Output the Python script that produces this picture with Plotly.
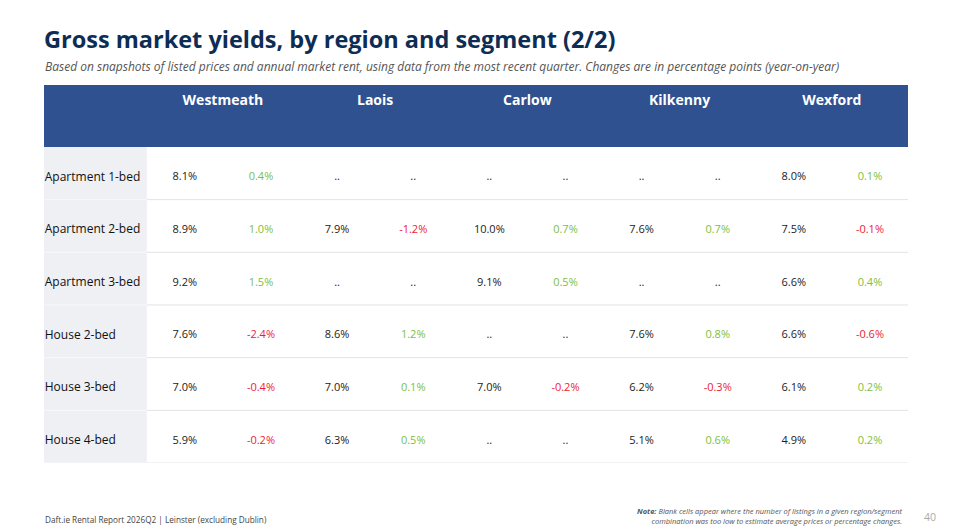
import plotly.graph_objects as go

regions = ["Westmeath", "Laois", "Carlow", "Kilkenny", "Wexford"]
segments = ["Apartment 1-bed", "Apartment 2-bed", "Apartment 3-bed",
            "House 2-bed", "House 3-bed", "House 4-bed"]

# gross yield (%) per region, in segment order; None = too few listings
westmeath_yield = [8.1, 8.9, 9.2, 7.6, 7.0, 5.9]
laois_yield = [None, 7.9, None, 8.6, 7.0, 6.3]
carlow_yield = [None, 10.0, 9.1, None, 7.0, None]
kilkenny_yield = [None, 7.6, None, 7.6, 6.2, 5.1]
wexford_yield = [8.0, 7.5, 6.6, 6.6, 6.1, 4.9]

# year-on-year change (percentage points)
westmeath_chg = [0.4, 1.0, 1.5, -2.4, -0.4, -0.2]
laois_chg = [None, -1.2, None, 1.2, 0.1, 0.5]
carlow_chg = [None, 0.7, 0.5, None, -0.2, None]
kilkenny_chg = [None, 0.7, None, 0.8, -0.3, 0.6]
wexford_chg = [0.1, -0.1, 0.4, -0.6, 0.2, 0.2]

yields = [westmeath_yield, laois_yield, carlow_yield, kilkenny_yield, wexford_yield]
changes = [westmeath_chg, laois_chg, carlow_chg, kilkenny_chg, wexford_chg]

NAVY = "#0e2d55"
BAND = "#2f5190"
GREEN = "#7cc142"
RED = "#ec1c35"
TXT = "#222222"

n_rows = len(segments)
label_w = 1.35          # label column width, in value-column units
hdr = 62 / 52.7         # header band height, in row units


def fmt(v):
    return ".." if v is None else f"{v:.1f}%"


fig = go.Figure()

# cell text: yields in even columns, changes in odd columns
yx, yy, yt = [], [], []
cx, cy, ct, cc = [], [], [], []
for i, (ys, cs) in enumerate(zip(yields, changes)):
    for r in range(n_rows):
        row_y = n_rows - r - 0.58
        yx.append(2 * i + 0.5)
        yy.append(row_y)
        yt.append(fmt(ys[r]))
        cx.append(2 * i + 1.5)
        cy.append(row_y)
        ct.append(fmt(cs[r]))
        v = cs[r]
        cc.append(TXT if v is None else (RED if v < 0 else GREEN))

fig.add_trace(go.Scatter(
    x=yx, y=yy, text=yt, mode="text", hoverinfo="skip",
    textfont=dict(family="Open Sans", size=11, color=TXT),
    textposition="middle center", showlegend=False))
fig.add_trace(go.Scatter(
    x=cx, y=cy, text=ct, mode="text", hoverinfo="skip",
    textfont=dict(family="Open Sans", size=11, color=cc),
    textposition="middle center", showlegend=False))

# row labels
fig.add_trace(go.Scatter(
    x=[-label_w + 0.01] * n_rows,
    y=[n_rows - r - 0.58 for r in range(n_rows)],
    text=segments, mode="text", hoverinfo="skip",
    textfont=dict(family="Open Sans", size=12, color="#111111"),
    textposition="middle right", showlegend=False))

# region names in the header band
fig.add_trace(go.Scatter(
    x=[2 * i + 1 for i in range(len(regions))],
    y=[n_rows + hdr - 0.32] * len(regions),
    text=[f"<b>{r}</b>" for r in regions], mode="text", hoverinfo="skip",
    textfont=dict(family="Open Sans", size=14, color="white"),
    textposition="middle center", showlegend=False))

shapes = [
    # header band
    dict(type="rect", xref="x", yref="y", x0=-label_w, x1=10,
         y0=n_rows, y1=n_rows + hdr, fillcolor=BAND, line_width=0, layer="below"),
    # label column background
    dict(type="rect", xref="x", yref="y", x0=-label_w, x1=0,
         y0=0, y1=n_rows, fillcolor="#eef0f4", line_width=0, layer="below"),
]
for k in range(n_rows):
    shapes.append(dict(type="line", xref="x", yref="y", x0=0, x1=10, y0=k, y1=k,
                       line=dict(color="#e3e3e3", width=1), layer="below"))
    shapes.append(dict(type="line", xref="x", yref="y", x0=-label_w, x1=0, y0=k, y1=k,
                       line=dict(color="#f8f9fb", width=1), layer="below"))


# pixel position in the window -> paper coordinates of the plot area
def px(x):
    return (x - 44) / 864


def py(y):
    return (463 - y) / 378


annotations = [
    dict(text="<b>Gross market yields, by region and segment (2/2)</b>",
         x=px(42), y=py(39), xanchor="left", yanchor="middle",
         font=dict(family="Open Sans", size=23.5, color=NAVY)),
    dict(text="<i>Based on snapshots of listed prices and annual market rent, using data from the most "
              "recent quarter. Changes are in percentage points (year-on-year)</i>",
         x=px(43), y=py(66), xanchor="left", yanchor="middle",
         font=dict(family="Open Sans", size=12, color="#555555")),
    dict(text="Daft.ie Rental Report 2026Q2 | Leinster (excluding Dublin)",
         x=px(43), y=py(519), xanchor="left", yanchor="middle",
         font=dict(family="Open Sans", size=8.2, color="#444444")),
    dict(text="<i><b>Note:</b> Blank cells appear where the number of listings in a given region/segment<br>"
              "combination was too low to estimate average prices or percentage changes.</i>",
         x=px(905), y=py(516), xanchor="right", yanchor="middle", align="right",
         font=dict(family="Open Sans", size=7.5, color="#555555")),
    dict(text="40", x=px(930), y=py(517), xanchor="center", yanchor="middle",
         font=dict(family="Open Sans", size=10.5, color="#aaaaaa")),
]
for a in annotations:
    a.update(xref="paper", yref="paper", showarrow=False)

fig.update_layout(
    width=953, height=530,
    margin=dict(l=44, r=45, t=85, b=67),
    paper_bgcolor="white", plot_bgcolor="white",
    xaxis=dict(range=[-label_w, 10], visible=False, fixedrange=True),
    yaxis=dict(range=[0, n_rows + hdr], visible=False, fixedrange=True),
    shapes=shapes, annotations=annotations,
)

# drop the browser's default 8px body margin so the figure fills the window
fig.write_html("out.html", config={"displayModeBar": False},
               post_script="document.body.style.margin = '0';")
